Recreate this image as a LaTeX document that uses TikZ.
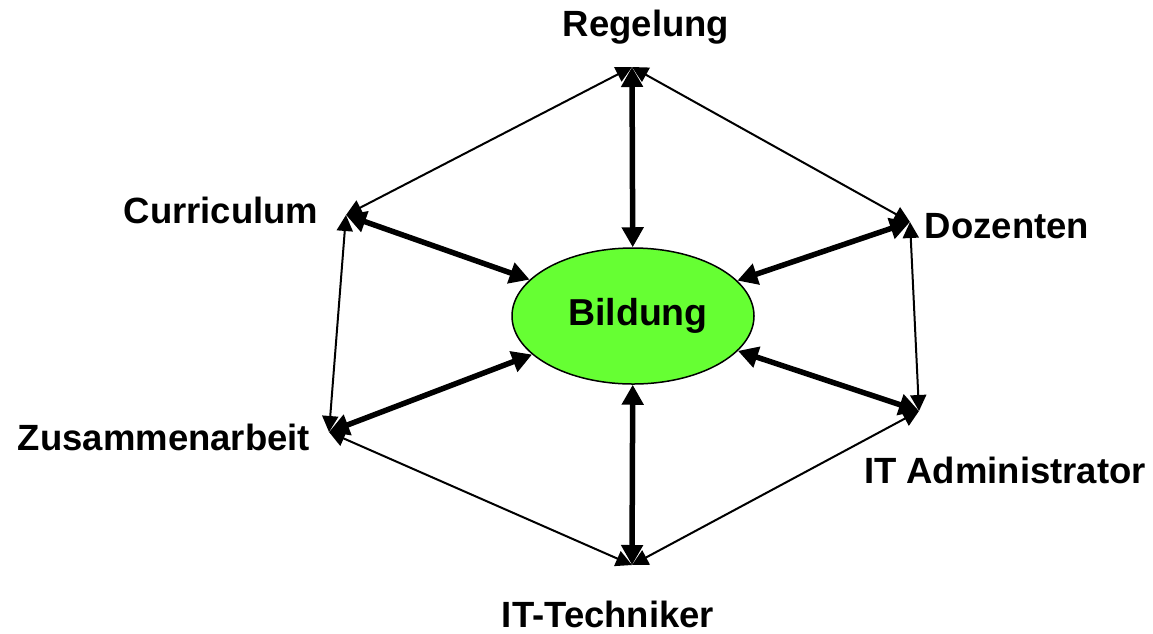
\documentclass[tikz,border=0pt]{standalone}
\usepackage{fontspec}
\setmainfont{Liberation Sans}
\usetikzlibrary{arrows.meta,shapes.geometric}
\begin{document}
\begin{tikzpicture}[x=1pt,y=-1pt,
  lbl/.style={font=\fontsize{36.5}{40}\selectfont\bfseries, inner sep=0pt},
  thick arrow/.style={line width=5.5pt, {Triangle[length=20pt,width=21pt]}-{Triangle[length=20pt,width=21pt]}},
  thin arrow/.style={line width=2pt, {Triangle[length=16pt,width=16pt]}-{Triangle[length=16pt,width=16pt]}}]
\useasboundingbox (0,0) rectangle (1153,633);
\definecolor{bgreen}{RGB}{102,255,51}
\node[ellipse, draw, line width=1.5pt, fill=bgreen, minimum width=242pt, minimum height=136pt, inner sep=0pt] (B) at (633,316) {};
\node[lbl, font=\fontsize{37.5}{40}\selectfont\bfseries] (Btxt) at (638,316) {Bildung};
\coordinate (vR) at (632,67);
\coordinate (vD) at (910,222);
\coordinate (vA) at (919,411);
\coordinate (vT) at (632,565);
\coordinate (vZ) at (329,432);
\coordinate (vC) at (346,215);
\node[lbl] (lR) at (646,27) {Regelung};
\node[lbl] (lD) at (1007,226) {Dozenten};
\node[lbl] (lA) at (1005,470) {IT Administrator};
\node[lbl] (lT) at (608,614) {IT-Techniker};
\node[lbl] (lZ) at (164,437) {Zusammenarbeit};
\node[lbl] (lC) at (221,210) {Curriculum};
\draw[thin arrow] (vR) -- (vD);
\draw[thin arrow] (vD) -- (vA);
\draw[thin arrow] (vA) -- (vT);
\draw[thin arrow] (vT) -- (vZ);
\draw[thin arrow] (vZ) -- (vC);
\draw[thin arrow] (vC) -- (vR);
\draw[thick arrow] (vR) -- (B);
\draw[thick arrow] (vD) -- (B);
\draw[thick arrow] (vA) -- (B);
\draw[thick arrow] (vT) -- (B);
\draw[thick arrow] (vZ) -- (B);
\draw[thick arrow] (vC) -- (B);
\end{tikzpicture}
\end{document}
